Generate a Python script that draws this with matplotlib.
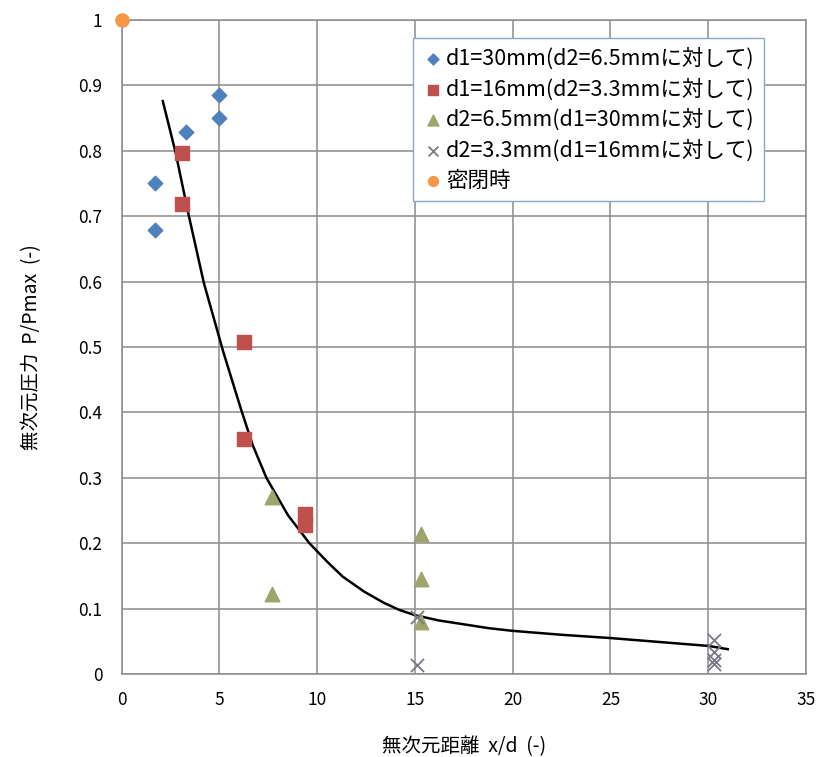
import matplotlib.pyplot as plt

plt.rcParams['font.family'] = ['Noto Sans CJK JP', 'DejaVu Sans']

# series
d1_30_x = [1.7, 1.7, 3.3, 5.0, 5.0]
d1_30_y = [0.751, 0.679, 0.829, 0.886, 0.850]

d1_16_x = [3.1, 3.1, 6.25, 6.25, 9.4, 9.4]
d1_16_y = [0.796, 0.718, 0.507, 0.360, 0.245, 0.228]

d2_65_x = [7.7, 7.7, 15.3, 15.3, 15.3]
d2_65_y = [0.270, 0.123, 0.214, 0.146, 0.080]

d2_33_x = [15.1, 15.1, 30.3, 30.3, 30.3, 30.3]
d2_33_y = [0.087, 0.014, 0.052, 0.034, 0.022, 0.016]

closed_x = [0]
closed_y = [1.0]

# fitted curve, read point by point
fit_x = [2.1, 2.75, 3.4, 4.2, 5.2, 6.1, 6.7, 7.4, 8.5, 9.6, 10.5, 11.3,
         12.4, 13.4, 14.2, 15.0, 16.2, 17.5, 18.8, 20.0, 22.5, 25.0, 27.5,
         30.0, 31.0]
fit_y = [0.876, 0.798, 0.705, 0.598, 0.492, 0.405, 0.350, 0.300, 0.243,
         0.200, 0.172, 0.149, 0.126, 0.109, 0.098, 0.090, 0.082, 0.076,
         0.070, 0.066, 0.060, 0.055, 0.049, 0.043, 0.038]

fig = plt.figure(figsize=(8.17, 7.57), dpi=100)
ax = fig.add_axes([0.149, 0.1096, 0.8375, 0.864])

ax.plot(fit_x, fit_y, color='black', linewidth=1.8, zorder=3)

ax.scatter(d1_30_x, d1_30_y, marker='D', s=55, color='#4F81BD', zorder=4,
           label='d1=30mm(d2=6.5mmに対して)')
ax.scatter(d1_16_x, d1_16_y, marker='s', s=110, color='#C0504D', zorder=4,
           label='d1=16mm(d2=3.3mmに対して)')
ax.scatter(d2_65_x, d2_65_y, marker='^', s=110, color='#9EA46C', zorder=4,
           label='d2=6.5mm(d1=30mmに対して)')
ax.scatter(d2_33_x, d2_33_y, marker='x', s=90, color='#7A7A86', linewidths=1.3,
           zorder=4, label='d2=3.3mm(d1=16mmに対して)')
ax.scatter(closed_x, closed_y, marker='o', s=90, color='#F79646', zorder=5,
           clip_on=False, label='密閉時')

ax.set_xlim(0, 35)
ax.set_ylim(0, 1)
ax.set_xticks(range(0, 36, 5))
ax.set_yticks([i / 10 for i in range(11)])
ax.set_yticklabels(['0'] + ['0.%d' % i for i in range(1, 10)] + ['1'])
ax.tick_params(labelsize=12.5, length=0)
ax.tick_params(axis='y', pad=14)
ax.tick_params(axis='x', pad=12)
ax.grid(True, color='#8c8c8c', linewidth=1.1)
ax.set_axisbelow(True)
for s in ax.spines.values():
    s.set_color('#8c8c8c')
    s.set_linewidth(1.1)

ax.set_xlabel('無次元距離  x/d  (-)', fontsize=14, labelpad=20)
ax.set_ylabel('無次元圧力  P/Pmax  (-)', fontsize=14, labelpad=26)

leg = ax.legend(loc='upper left', bbox_to_anchor=(0.4254, 0.9725),
                borderaxespad=0, fontsize=15.5, frameon=True, fancybox=False,
                handletextpad=0.1, handlelength=1.0, borderpad=0.45,
                labelspacing=0.38, markerscale=0.75)
leg.get_frame().set_edgecolor('#8aa8cc')
leg.get_frame().set_linewidth(1.0)
leg.get_frame().set_alpha(1)

fig.savefig('out.png', dpi=100)
